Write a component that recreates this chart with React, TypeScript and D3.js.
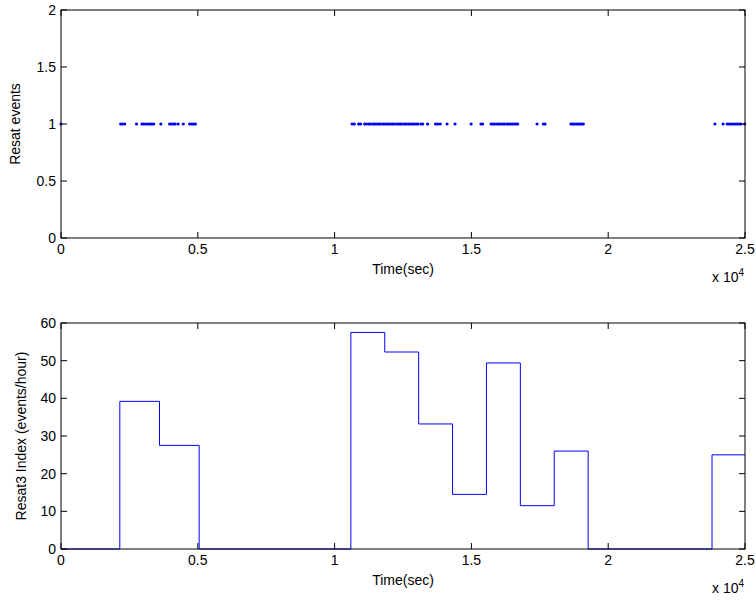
import React from "react";
import * as d3 from "d3";

// Event times (seconds) detected during the recording
const eventTimes: number[] = [
  0,
  2180, 2250, 2330, 2760, 2960, 3020, 3100, 3180, 3250, 3320, 3390, 3650,
  3970, 4040, 4110, 4170, 4280, 4470, 4700, 4780, 4850, 4910,
  10640, 10720, 10880, 10950, 11100, 11160, 11250, 11310, 11400, 11460, 11530,
  11610, 11670, 11760, 11820, 11900, 11960, 12040, 12110, 12170, 12260, 12330,
  12400, 12460, 12550, 12610, 12690, 12750, 12830, 12900, 12980, 13050, 13160,
  13220, 13400, 13690, 13770, 13860, 14110, 14400, 14990, 15350, 15410,
  15720, 15790, 15850, 15940, 16000, 16070, 16150, 16210, 16300, 16360, 16430,
  16500, 16570, 16640, 16690,
  17400, 17630, 17690, 18640, 18700, 18760, 18830, 18900, 18960, 19030, 19090,
  23900, 24200, 24350, 24420, 24500, 24570, 24650, 24720, 24800, 24850, 24990,
];

// Windowed index: window start times (sec) and rate (events/hour) in each window
const windowStarts: number[] = [
  0, 2150, 3600, 5050, 10594, 11833, 13072, 14311, 15550, 16789, 18028, 19267, 23795, 25000,
];
const windowRates: number[] = [
  0, 39.2, 27.5, 0, 57.5, 52.3, 33.2, 14.5, 49.4, 11.5, 26.0, 0, 25.0, 25.0,
];

const xTicks: number[] = [0, 5000, 10000, 15000, 20000, 25000];
const xTickLabels: string[] = ["0", "0.5", "1", "1.5", "2", "2.5"];
const topYTicks: number[] = [0, 0.5, 1, 1.5, 2];
const topYTickLabels: string[] = ["0", "0.5", "1", "1.5", "2"];
const bottomYTicks: number[] = [0, 10, 20, 30, 40, 50, 60];

const W = 756;
const H = 601;
const FONT = "'Liberation Sans', Arial, Helvetica, sans-serif";
const FS = 14;
const TICK = 6;
const BLUE = "#0000ff";

const left = 61;
const right = 745;

type PanelProps = {
  top: number;
  bottom: number;
  yDomain: [number, number];
  yTicks: number[];
  yTickLabels: string[];
  yLabel: string;
  yLabelX: number;
  children: (x: d3.ScaleLinear<number, number>, y: d3.ScaleLinear<number, number>) => React.ReactNode;
};

function Panel({ top, bottom, yDomain, yTicks, yTickLabels, yLabel, yLabelX, children }: PanelProps) {
  const x = d3.scaleLinear().domain([0, 25000]).range([left, right]);
  const y = d3.scaleLinear().domain(yDomain).range([bottom, top]);
  return (
    <g fontFamily={FONT} fontSize={FS} fill="#000">
      <rect x={left} y={top} width={right - left} height={bottom - top} fill="#fff" stroke="none" />
      <g>{children(x, y)}</g>
      <rect x={left} y={top} width={right - left} height={bottom - top} fill="none" stroke="#000" strokeWidth={1} />
      {xTicks.map((t, i) => (
        <g key={"xt" + i}>
          <line x1={x(t)} x2={x(t)} y1={bottom} y2={bottom - TICK} stroke="#000" />
          <line x1={x(t)} x2={x(t)} y1={top} y2={top + TICK} stroke="#000" />
          <text x={x(t)} y={bottom + 16} textAnchor="middle">{xTickLabels[i]}</text>
        </g>
      ))}
      {yTicks.map((t, i) => (
        <g key={"yt" + i}>
          <line x1={left} x2={left + TICK} y1={y(t)} y2={y(t)} stroke="#000" />
          <line x1={right} x2={right - TICK} y1={y(t)} y2={y(t)} stroke="#000" />
          <text x={left - 5} y={y(t)} dy="0.35em" textAnchor="end">{yTickLabels[i]}</text>
        </g>
      ))}
      <text x={(left + right) / 2} y={bottom + 36} textAnchor="middle">Time(sec)</text>
      <text x={right - 33} y={bottom + 44}>
        x 10<tspan fontSize={10} dy={-6}>4</tspan>
      </text>
      <text
        transform={`translate(${yLabelX},${(top + bottom) / 2}) rotate(-90)`}
        textAnchor="middle"
      >
        {yLabel}
      </text>
    </g>
  );
}

export default function App() {
  const stepLine = (x: d3.ScaleLinear<number, number>, y: d3.ScaleLinear<number, number>) => {
    const pts: [number, number][] = windowStarts.map((s, i) => [s, windowRates[i]]);
    const gen = d3
      .line<[number, number]>()
      .x((d) => x(d[0]))
      .y((d) => y(d[1]))
      .curve(d3.curveStepAfter);
    return <path d={gen(pts) ?? ""} fill="none" stroke={BLUE} strokeWidth={1} />;
  };

  return (
    <div style={{ position: "absolute", left: 0, top: 0, width: W, height: H, background: "#fff" }}>
      <svg width={W} height={H} viewBox={`0 0 ${W} ${H}`}>
        <rect width={W} height={H} fill="#fff" />
        <Panel
          top={10}
          bottom={238}
          yDomain={[0, 2]}
          yTicks={topYTicks}
          yTickLabels={topYTickLabels}
          yLabel="Resat events"
          yLabelX={20}
        >
          {(x, y) =>
            eventTimes.map((t, i) => (
              <circle key={i} cx={x(t)} cy={y(1)} r={1.6} fill={BLUE} />
            ))
          }
        </Panel>
        <Panel
          top={323}
          bottom={549}
          yDomain={[0, 60]}
          yTicks={bottomYTicks}
          yTickLabels={bottomYTicks.map(String)}
          yLabel="Resat3 Index (events/hour)"
          yLabelX={26}
        >
          {stepLine}
        </Panel>
      </svg>
    </div>
  );
}
